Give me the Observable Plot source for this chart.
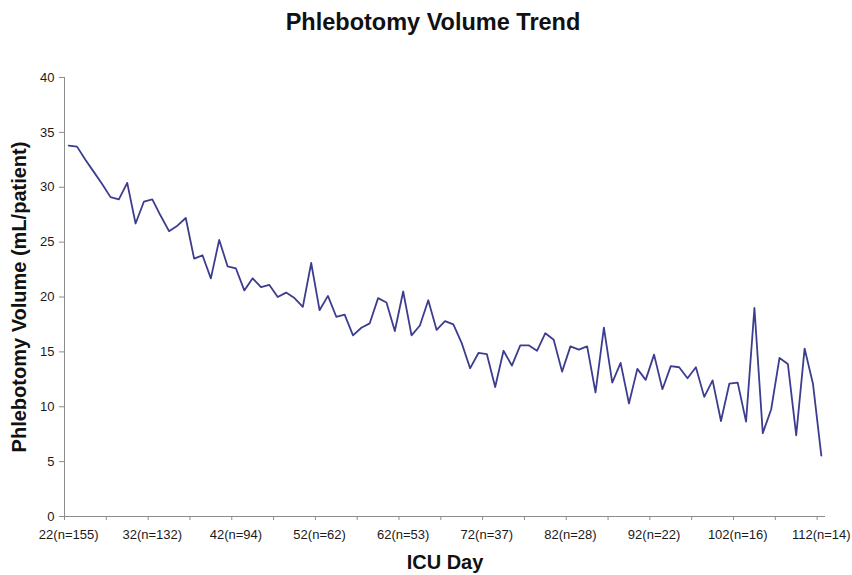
<!DOCTYPE html>
<html><head><meta charset="utf-8">
<script src="https://cdn.jsdelivr.net/npm/d3@7"></script>
<script src="https://cdn.jsdelivr.net/npm/@observablehq/plot@0.6"></script>
<style>
body{margin:0;background:#fff;font-family:"Liberation Sans",Arial,sans-serif;}
#title{height:45px;line-height:44px;text-align:center;font-weight:bold;font-size:23.5px;padding-left:14px;color:#111;}
#chart svg g[aria-label="y-axis label"] text, #chart svg g[aria-label="x-axis label"] text{font-size:20px;font-weight:bold;fill:#111;}
</style></head><body>
<div id="title">Phlebotomy Volume Trend</div>
<div id="chart"></div>
<script>
const days = [22,23,24,25,26,27,28,29,30,31,32,33,34,35,36,37,38,39,40,41,42,43,44,45,46,47,48,49,50,51,52,53,54,55,56,57,58,59,60,61,62,63,64,65,66,67,68,69,70,71,72,73,74,75,76,77,78,79,80,81,82,83,84,85,86,87,88,89,90,91,92,93,94,95,96,97,98,99,100,101,102,103,104,105,106,107,108,109,110,111,112];
const volume = [33.8,33.7,32.5,31.4,30.3,29.1,28.9,30.4,26.7,28.7,28.9,27.4,26.0,26.5,27.2,23.5,23.8,21.7,25.2,22.8,22.6,20.6,21.7,20.9,21.1,20.0,20.4,19.9,19.1,23.1,18.8,20.1,18.2,18.4,16.5,17.2,17.6,19.9,19.5,16.9,20.5,16.5,17.4,19.7,17.0,17.8,17.5,15.8,13.5,14.9,14.8,11.8,15.1,13.75,15.6,15.6,15.1,16.7,16.1,13.2,15.5,15.2,15.5,11.3,17.2,12.2,14.0,10.3,13.45,12.45,14.75,11.6,13.7,13.6,12.6,13.6,10.9,12.4,8.7,12.1,12.2,8.65,19.0,7.6,9.75,14.45,13.9,7.4,15.3,12.1,5.55];
const labelDays = [22,32,42,52,62,72,82,92,102,112];
const labelN = [155,132,94,62,53,37,28,22,16,14];
const boundaryTicks = [21.5,26.5,31.5,36.5,41.5,46.5,51.5,56.5,61.5,66.5,71.5,76.5,81.5,86.5,91.5,96.5,101.5,106.5,111.5];
const yTicks = [0,5,10,15,20,25,30,35,40];

const data = days.map((d,i)=>({day:d, vol:volume[i]}));
const labelMap = new Map(labelDays.map((d,i)=>[d, `${d}(n=${labelN[i]})`]));
const axisColor = "#8c8c8c";

const chart = Plot.plot({
  width: 852, height: 530,
  marginLeft: 64, marginRight: 27, marginTop: 32, marginBottom: 59,
  x: {domain: [21.5, 112.5]},
  y: {domain: [0, 40]},
  style: {fontFamily: "'Liberation Sans', Arial, sans-serif", fontSize: "13px", color: "#1a1a1a", background: "#fff"},
  marks: [
    Plot.ruleY([0], {stroke: axisColor}),
    Plot.ruleX([21.5], {stroke: axisColor}),
    Plot.axisY({ticks: yTicks, tickSize: 5, tickPadding: 5, stroke: axisColor, label: "Phlebotomy Volume (mL/patient)", labelAnchor: "center", labelArrow: "none", labelOffset: 53}),
    Plot.axisX({ticks: boundaryTicks, tickSize: 4, stroke: axisColor, tickFormat: () => "", label: null}),
    Plot.axisX({ticks: labelDays, tickSize: 0, tickPadding: 13, tickFormat: d => labelMap.get(d), label: "ICU Day", labelAnchor: "center", labelArrow: "none", labelOffset: 52}),
    Plot.line(data, {x: "day", y: "vol", stroke: "#3d3d8f", strokeWidth: 1.8})
  ]
});
document.getElementById("chart").appendChild(chart);
</script>
</body></html>
